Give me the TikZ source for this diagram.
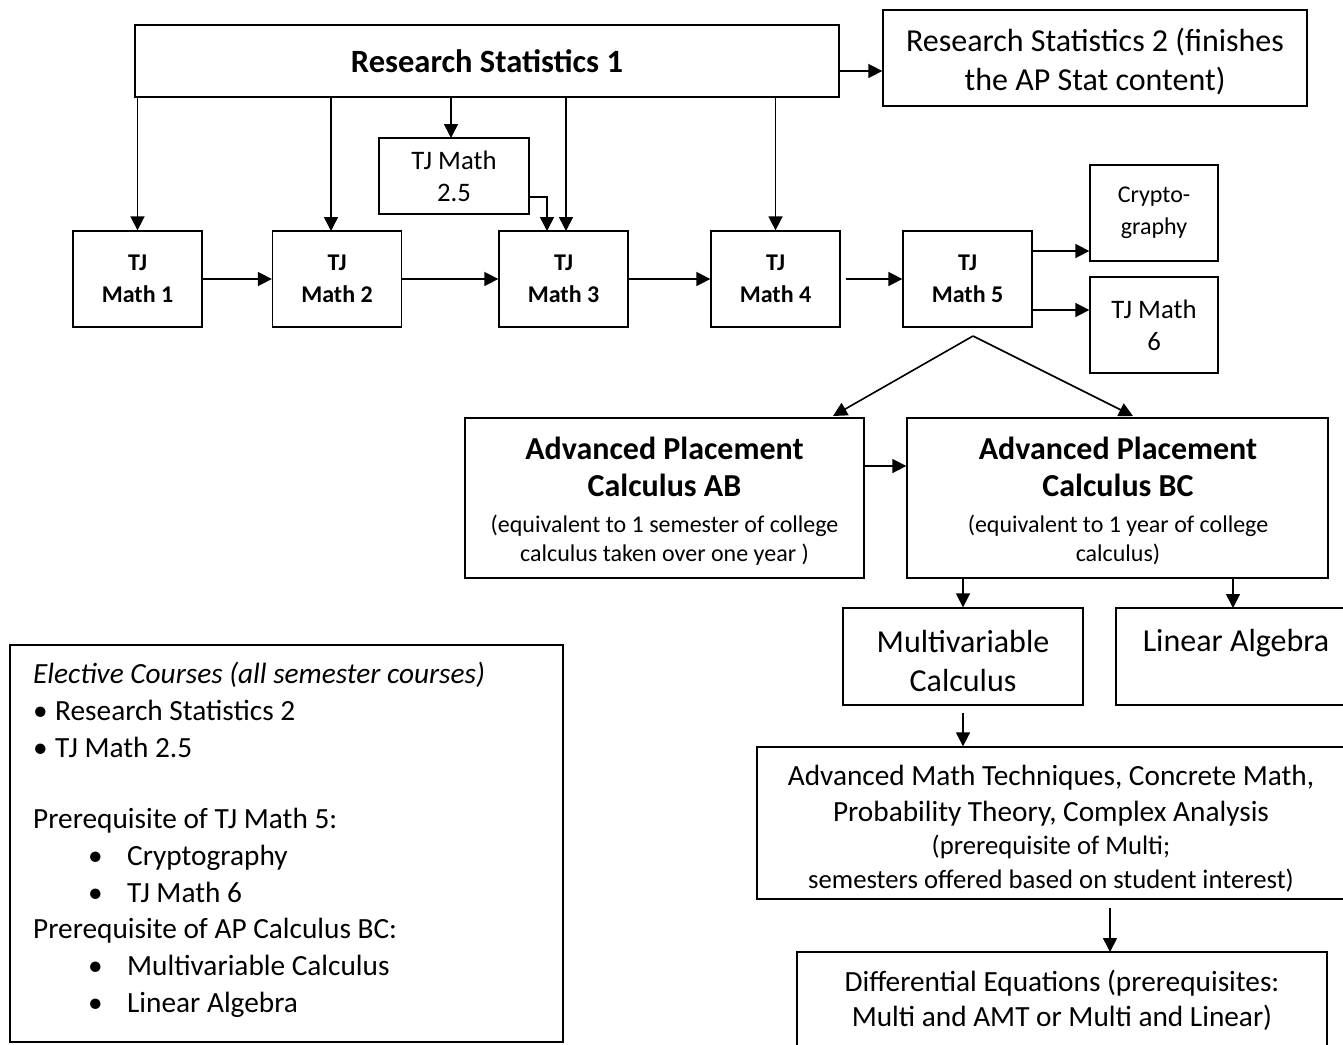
\documentclass[tikz,border=0pt]{standalone}
\usepackage{fontspec}
\setmainfont{Carlito}
\usetikzlibrary{arrows.meta,calc}
\newcommand\myfs[2]{\fontsize{#1}{#2}\selectfont}
\begin{document}
\begin{tikzpicture}[x=1pt,y=-1pt,
  box/.style={draw, line width=1.3pt, inner sep=0pt, align=center},
  txt/.style={inner sep=0pt, align=center},
  arr/.style={line width=1.6pt, -{Triangle[width=14pt,length=14pt]}}]
\useasboundingbox (0,0) rectangle (1343,1044);
\fill[white] (0,0) rectangle (1343,1044);
\clip (0,0) rectangle (1343,1044);

% top row
\node[box, minimum width=704pt, minimum height=72pt, font=\myfs{32.5}{39}\bfseries] (rs1) at (487,61) {Research Statistics 1};
\node[box, minimum width=424pt, minimum height=96pt] (rs2) at (1095,58) {};
\node[txt, font=\myfs{32}{39}] at (1095,62) {Research Statistics 2 (finishes\\the AP Stat content)};
\node[box, minimum width=150pt, minimum height=76pt, font=\myfs{26.7}{32}] (t25) at (454,176) {TJ Math\\2.5};

% TJ Math row
\tikzset{tj/.style={box, minimum width=129pt, minimum height=96pt, font=\myfs{24}{32}\bfseries}}
\node[tj] (tj1) at (137.5,279) {TJ\\Math 1};
\node[tj] (tj2) at (337,279) {TJ\\Math 2};
\node[tj] (tj3) at (563.5,279) {TJ\\Math 3};
\node[tj] (tj4) at (775.5,279) {TJ\\Math 4};
\node[tj] (tj5) at (967.5,279) {TJ\\Math 5};
\node[box, minimum width=128pt, minimum height=96pt, font=\myfs{24}{32}] (cry) at (1154,213) {Crypto-\\graphy};
\node[box, minimum width=128pt, minimum height=96pt, font=\myfs{26.7}{32}] (tj6) at (1154,325) {TJ Math\\6};

% calculus
\node[box, minimum width=399pt, minimum height=160pt] (ab) at (664.5,498) {};
\node[txt, font=\myfs{24}{29}] at (664.5,501) {{\myfs{32}{37}\bfseries Advanced Placement}\\[8pt]{\myfs{32}{37}\bfseries Calculus AB}\\[7pt](equivalent to 1 semester of college\\calculus taken over one year )};
\node[box, minimum width=421pt, minimum height=160pt] (bc) at (1117.5,498) {};
\node[txt, font=\myfs{24}{29}] at (1118,501) {{\myfs{32}{37}\bfseries Advanced Placement}\\[8pt]{\myfs{32}{37}\bfseries Calculus BC}\\[7pt](equivalent to 1 year of college\\calculus)};

\node[box, minimum width=240pt, minimum height=97pt] (mv) at (963,656.5) {};
\node[txt, font=\myfs{32}{39}] at (963,661) {Multivariable\\Calculus};
\node[box, minimum width=244pt, minimum height=97pt] (la) at (1238,656.5) {};
\node[txt, anchor=base, font=\myfs{32}{39}] at (1236,651) {Linear Algebra};

\node[box, minimum width=600pt, minimum height=152pt] (amt) at (1057,823) {};
\node[txt, font=\myfs{26.7}{34}] at (1051,829) {{\myfs{29.3}{36}Advanced Math Techniques, Concrete Math,}\\[2pt]{\myfs{29.3}{36}Probability Theory, Complex Analysis}\\[-1pt](prerequisite of Multi;\\semesters offered based on student interest)};

\node[box, minimum width=530pt, minimum height=110pt] (de) at (1062,1007) {};
\node[txt, font=\myfs{29.3}{35}] at (1062,1000) {Differential Equations (prerequisites:\\Multi and AMT or Multi and Linear)};

% elective box
\node[box, minimum width=553pt, minimum height=397pt] (el) at (286.5,843.5) {};
\node[txt, align=left, anchor=north west, font=\myfs{29.3}{36.9}] at (33,662) {%
\textit{Elective Courses (all semester courses)}\\
\makebox[22pt][l]{\textbullet}Research Statistics 2\\
\makebox[22pt][l]{\textbullet}TJ Math 2.5\\
\strut\\[-3pt]
Prerequisite of TJ Math 5:\\
\hspace*{55pt}\makebox[39pt][l]{\textbullet}Cryptography\\
\hspace*{55pt}\makebox[39pt][l]{\textbullet}TJ Math 6\\
Prerequisite of AP Calculus BC:\\
\hspace*{55pt}\makebox[39pt][l]{\textbullet}Multivariable Calculus\\
\hspace*{55pt}\makebox[39pt][l]{\textbullet}Linear Algebra};

% coordinates for free ends
\coordinate (c2) at (331,231);
\coordinate (c3) at (566,231);
\coordinate (c25) at (451,138);
\coordinate (j3) at (547,231);
\coordinate (apex) at (973,336);
\coordinate (ab1) at (833,416);
\coordinate (bc1) at (1133,416);
\coordinate (la1) at (1233,608);
\coordinate (d1) at (1110,952);

% connectors
\draw[arr] ([yshift=-10pt]rs1.east) -- ([yshift=-10pt]rs1.east -| rs2.west);
\draw[arr] (rs1.south -| c25) -- (c25);
\draw[arr] (rs1.south -| tj1.north) -- (tj1.north);
\draw[arr] (rs1.south -| c2) -- (c2);
\draw[arr] (rs1.south -| c3) -- (c3);
\draw[arr] (rs1.south -| tj4.north) -- (tj4.north);
\draw[arr] ([yshift=10pt]t25.east) -- ([yshift=-21pt]t25.east) -| (j3);

\draw[arr] (tj1.east) -- (tj2.west);
\draw[arr] (tj2.east) -- (tj3.west);
\draw[arr] (tj3.east) -- (tj4.west);
\draw[arr] ([xshift=5pt]tj4.east) -- (tj5.west);
\draw[arr] ([yshift=28pt]tj5.east) -- ([yshift=28pt]tj5.east -| cry.west);
\draw[arr] ([yshift=-31pt]tj5.east) -- ([yshift=-31pt]tj5.east -| tj6.west);

\draw[arr] (apex) -- (ab1);
\draw[arr] (apex) -- (bc1);
\draw[arr] ([yshift=32pt]ab.east) -- ([yshift=32pt]ab.east -| bc.west);
\draw[arr] (bc.south -| mv.north) -- (mv.north);
\draw[arr] (bc.south -| la1) -- (la1);
\draw[arr] ([yshift=-7pt]mv.south) -- (mv.south |- amt.north);
\draw[arr] ($(amt.south -| d1)+(0,8)$) -- (d1);
\end{tikzpicture}
\end{document}
